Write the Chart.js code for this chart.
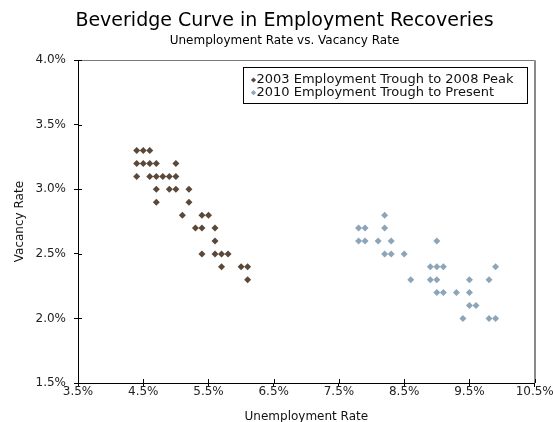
<!DOCTYPE html>
<html>
<head>
<meta charset="utf-8">
<title>Beveridge Curve in Employment Recoveries</title>
<script src="https://cdn.jsdelivr.net/npm/chart.js@4/dist/chart.umd.min.js"></script>
<style>
  html, body { margin: 0; padding: 0; background: #ffffff; }
  #wrap { position: relative; width: 553px; height: 422px; }
</style>
</head>
<body>
<div id="wrap"><canvas id="beveridge"></canvas></div>
<script>
// Unemployment rate (%) and job vacancy rate (%) pairs for each recovery
const seriesNames = [
  '2003 Employment Trough to 2008 Peak',
  '2010 Employment Trough to Present'
];

const unemp2003 = [
  4.4, 4.5, 4.6,
  4.4, 4.5, 4.6, 4.7, 5.0,
  4.4, 4.6, 4.7, 4.8, 4.9, 5.0,
  4.7, 4.9, 5.0, 5.2,
  4.7, 5.2,
  5.1, 5.4, 5.5,
  5.3, 5.4, 5.6,
  5.6,
  5.4, 5.6, 5.7, 5.8,
  5.7, 6.0, 6.1,
  6.1
];
const vacancy2003 = [
  3.3, 3.3, 3.3,
  3.2, 3.2, 3.2, 3.2, 3.2,
  3.1, 3.1, 3.1, 3.1, 3.1, 3.1,
  3.0, 3.0, 3.0, 3.0,
  2.9, 2.9,
  2.8, 2.8, 2.8,
  2.7, 2.7, 2.7,
  2.6,
  2.5, 2.5, 2.5, 2.5,
  2.4, 2.4, 2.4,
  2.3
];

const unemp2010 = [
  8.2,
  7.8, 7.9, 8.2,
  7.8, 7.9, 8.1, 8.3, 9.0,
  8.2, 8.3, 8.5,
  8.9, 9.0, 9.1, 9.9,
  8.6, 8.9, 9.0, 9.5, 9.8,
  9.0, 9.1, 9.3, 9.5,
  9.5, 9.6,
  9.4, 9.8, 9.9
];
const vacancy2010 = [
  2.8,
  2.7, 2.7, 2.7,
  2.6, 2.6, 2.6, 2.6, 2.6,
  2.5, 2.5, 2.5,
  2.4, 2.4, 2.4, 2.4,
  2.3, 2.3, 2.3, 2.3, 2.3,
  2.2, 2.2, 2.2, 2.2,
  2.1, 2.1,
  2.0, 2.0, 2.0
];

const xTickValues = [3.5, 4.5, 5.5, 6.5, 7.5, 8.5, 9.5, 10.5];
const yTickValues = [1.5, 2.0, 2.5, 3.0, 3.5, 4.0];

const seriesColors = ['#5b4838', '#8da5b9'];
const FONT = '"DejaVu Sans", Verdana, sans-serif';

const toPoints = (xs, ys) => xs.map((x, i) => ({ x: x, y: ys[i] }));
const pct = v => Number(v).toFixed(1) + '%';

function diamond(ctx, x, y, r) {
  ctx.beginPath();
  ctx.moveTo(x - r, y);
  ctx.lineTo(x, y - r);
  ctx.lineTo(x + r, y);
  ctx.lineTo(x, y + r);
  ctx.closePath();
  ctx.fill();
}

// Grey top/right frame plus tick marks that cross into the plot area
const framePlugin = {
  id: 'frame',
  beforeDatasetsDraw(chart) {
    const { ctx, chartArea: a, scales } = chart;
    ctx.save();
    ctx.strokeStyle = '#7a7a7a';
    ctx.lineWidth = 1;
    ctx.beginPath();
    ctx.moveTo(a.left, Math.round(a.top) + 0.5);
    ctx.lineTo(a.right, Math.round(a.top) + 0.5);
    ctx.stroke();
    ctx.strokeStyle = '#8a8a8a';
    ctx.lineWidth = 2;
    ctx.beginPath();
    ctx.moveTo(Math.round(a.right), a.top);
    ctx.lineTo(Math.round(a.right), a.bottom);
    ctx.stroke();

    ctx.strokeStyle = '#000';
    ctx.lineWidth = 1;
    ctx.beginPath();
    scales.x.ticks.forEach(t => {
      const px = Math.round(scales.x.getPixelForValue(t.value)) + 0.5;
      ctx.moveTo(px, a.bottom);
      ctx.lineTo(px, a.bottom - 4);
    });
    scales.y.ticks.forEach(t => {
      const py = Math.round(scales.y.getPixelForValue(t.value)) + 0.5;
      ctx.moveTo(a.left, py);
      ctx.lineTo(a.left + 4, py);
    });
    ctx.stroke();
    ctx.restore();
  }
};

// Boxed legend inside the upper right of the plot
const boxLegend = {
  id: 'boxLegend',
  afterDraw(chart) {
    const { ctx, chartArea: a } = chart;
    const sets = chart.data.datasets;
    ctx.save();
    ctx.font = '13px ' + FONT;
    const textW = Math.max(...sets.map(d => ctx.measureText(d.label).width));
    const w = Math.round(13 + textW + 14);
    const h = 36;
    const right = Math.round(a.right - 8) + 0.5;
    const top = Math.round(a.top + 7) + 0.5;
    const left = right - w;
    ctx.fillStyle = '#ffffff';
    ctx.fillRect(left, top, w, h);
    ctx.strokeStyle = '#000000';
    ctx.lineWidth = 1;
    ctx.strokeRect(left, top, w, h);
    sets.forEach((d, i) => {
      const cy = top + 12.5 + i * 12.7;
      ctx.fillStyle = d.backgroundColor;
      diamond(ctx, left + 10, cy, 2.6);
      ctx.fillStyle = '#111111';
      ctx.textAlign = 'left';
      ctx.textBaseline = 'middle';
      ctx.fillText(d.label, left + 13, cy);
    });
    ctx.restore();
  }
};

new Chart(document.getElementById('beveridge'), {
  type: 'scatter',
  data: {
    datasets: [
      {
        label: seriesNames[0],
        data: toPoints(unemp2003, vacancy2003),
        backgroundColor: seriesColors[0],
        borderColor: seriesColors[0],
        pointStyle: 'rectRot',
        pointRadius: 3.5,
        pointBorderWidth: 0,
        pointHoverRadius: 3.5
      },
      {
        label: seriesNames[1],
        data: toPoints(unemp2010, vacancy2010),
        backgroundColor: seriesColors[1],
        borderColor: seriesColors[1],
        pointStyle: 'rectRot',
        pointRadius: 3.5,
        pointBorderWidth: 0,
        pointHoverRadius: 3.5
      }
    ]
  },
  options: {
    responsive: true,
    maintainAspectRatio: false,
    animation: false,
    events: [],
    layout: { padding: { left: 16, right: 0, top: 0, bottom: 0 } },
    plugins: {
      legend: { display: false },
      tooltip: { enabled: false },
      title: {
        display: true,
        text: 'Beveridge Curve in Employment Recoveries',
        color: '#000000',
        font: { family: FONT, size: 19, weight: 'normal', lineHeight: 1.2 },
        padding: { top: 10, bottom: 0 }
      },
      subtitle: {
        display: true,
        text: 'Unemployment Rate vs. Vacancy Rate',
        color: '#000000',
        font: { family: FONT, size: 12, weight: 'normal', lineHeight: 1.2 },
        padding: { top: 1, bottom: 12 }
      }
    },
    scales: {
      x: {
        type: 'linear',
        position: 'bottom',
        min: 3.5,
        max: 10.5,
        afterBuildTicks: s => { s.ticks = xTickValues.map(v => ({ value: v })); },
        afterFit: s => { s.height = 39; s.paddingRight = 18.3; },
        ticks: {
          callback: pct,
          color: '#222222',
          font: { family: FONT, size: 12 },
          padding: -2,
          maxRotation: 0,
          autoSkip: false
        },
        grid: { drawOnChartArea: false, drawTicks: true, tickLength: 4, color: '#000000' },
        border: { display: true, color: '#000000', width: 1 },
        title: {
          display: true,
          text: 'Unemployment Rate',
          color: '#111111',
          font: { family: FONT, size: 12 },
          padding: { top: 0, bottom: -2 }
        }
      },
      y: {
        type: 'linear',
        position: 'left',
        min: 1.5,
        max: 4.0,
        afterBuildTicks: s => { s.ticks = yTickValues.map(v => ({ value: v })); },
        afterFit: s => { s.width = 62; },
        ticks: {
          callback: pct,
          color: '#222222',
          font: { family: FONT, size: 12 },
          padding: 8
        },
        grid: { drawOnChartArea: false, drawTicks: true, tickLength: 4, color: '#000000' },
        border: { display: true, color: '#000000', width: 1 },
        title: {
          display: true,
          text: 'Vacancy Rate',
          color: '#111111',
          font: { family: FONT, size: 12 },
          padding: { top: -3, bottom: 0 }
        }
      }
    }
  },
  plugins: [framePlugin, boxLegend]
});
</script>
</body>
</html>
